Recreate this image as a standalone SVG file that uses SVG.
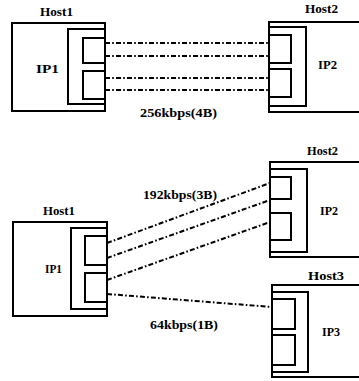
<svg xmlns="http://www.w3.org/2000/svg" width="359" height="381" viewBox="0 0 359 381">
<style>
.box{fill:none;stroke:#000;stroke-width:2}
.ln{fill:none;stroke:#000;stroke-width:2;stroke-dasharray:5 2.2 1.6 2.2}
text{font-family:"Liberation Serif","Times New Roman",serif;font-weight:bold;font-size:12.5px;fill:#000}
</style>
<rect width="359" height="381" fill="#fff"/>
<g id="top-host1">
<rect class="box" x="12" y="23" width="93" height="88"/>
<rect class="box" x="68" y="29" width="37" height="75"/>
<rect class="box" x="83" y="38" width="22" height="25"/>
<rect class="box" x="83" y="71" width="22" height="28"/>
<text x="40" y="16" textLength="33" lengthAdjust="spacingAndGlyphs">Host1</text>
<text x="36" y="73" textLength="23" lengthAdjust="spacingAndGlyphs">IP1</text>
</g>
<g id="top-host2">
<rect class="box" x="269" y="22" width="100" height="90"/>
<rect class="box" x="269" y="27" width="37" height="79"/>
<rect class="box" x="269" y="35" width="22" height="28"/>
<rect class="box" x="269" y="69" width="22" height="28"/>
<text x="305" y="13" textLength="33" lengthAdjust="spacingAndGlyphs">Host2</text>
<text x="318" y="69" textLength="19" lengthAdjust="spacingAndGlyphs">IP2</text>
</g>
<g id="bottom-host1">
<rect class="box" x="13" y="222" width="94" height="94"/>
<rect class="box" x="71" y="228" width="36" height="81"/>
<rect class="box" x="85" y="236" width="22" height="29"/>
<rect class="box" x="85" y="273" width="22" height="29"/>
<text x="43" y="215" textLength="32" lengthAdjust="spacingAndGlyphs">Host1</text>
<text x="45" y="273" textLength="17" lengthAdjust="spacingAndGlyphs">IP1</text>
</g>
<g id="bottom-host2">
<rect class="box" x="270" y="162" width="100" height="95"/>
<rect class="box" x="270" y="169" width="37" height="83"/>
<rect class="box" x="270" y="177" width="21" height="22"/>
<rect class="box" x="270" y="213" width="21" height="27"/>
<text x="307" y="155" textLength="31" lengthAdjust="spacingAndGlyphs">Host2</text>
<text x="320" y="215" textLength="18" lengthAdjust="spacingAndGlyphs">IP2</text>
</g>
<g id="host3">
<rect class="box" x="272" y="285" width="100" height="92"/>
<rect class="box" x="272" y="292" width="36" height="80"/>
<rect class="box" x="272" y="299" width="23" height="30"/>
<rect class="box" x="272" y="335" width="23" height="30"/>
<text x="308" y="280" textLength="36" lengthAdjust="spacingAndGlyphs">Host3</text>
<text x="322" y="336" textLength="18" lengthAdjust="spacingAndGlyphs">IP3</text>
</g>
<g id="connectors">
<line class="ln" x1="105" y1="43" x2="269" y2="43"/>
<line class="ln" x1="105" y1="56" x2="269" y2="56"/>
<line class="ln" x1="105" y1="78" x2="269" y2="78"/>
<line class="ln" x1="105" y1="90" x2="269" y2="90"/>
<line class="ln" x1="107" y1="243" x2="270" y2="183"/>
<line class="ln" x1="107" y1="258" x2="270" y2="200"/>
<line class="ln" x1="107" y1="280" x2="270" y2="222"/>
<line class="ln" x1="107" y1="294" x2="272" y2="307"/>
<text x="140" y="117" textLength="77" lengthAdjust="spacingAndGlyphs">256kbps(4B)</text>
<text x="143" y="199" textLength="74" lengthAdjust="spacingAndGlyphs">192kbps(3B)</text>
<text x="150" y="329" textLength="68" lengthAdjust="spacingAndGlyphs">64kbps(1B)</text>
</g>
</svg>
